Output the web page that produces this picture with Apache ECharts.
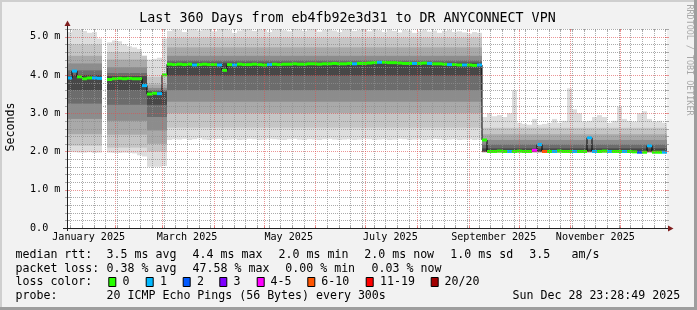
<!DOCTYPE html>
<html><head><meta charset="utf-8">
<script src="https://cdn.jsdelivr.net/npm/echarts@6/dist/echarts.min.js"></script>
<style>html,body{margin:0;padding:0;background:#f2f2f2}#c{width:697px;height:310px}</style>
</head><body><div id="c"></div>
<script>
// ---------- data ----------
const COL_DAYS = 3;          // each column = 3 days, 120 columns
const SPAN_DAYS = 360;
const T0 = Date.UTC(2025, 0, 2, 23, 28, 49);   // start of the 360-day window
const Y_MAX = 5.2;

const median = [
  3.92, 4.10, 3.95, 3.90, 3.92, 3.92, 3.91, null, 3.88, 3.90,
  3.91, 3.90, 3.91, 3.90, 3.90, 3.72, 3.50, 3.52, 3.51, 4.00,
  4.28, 4.27, 4.28, 4.27, 4.28, 4.26, 4.27, 4.28, 4.27, 4.27,
  4.26, 4.12, 4.27, 4.26, 4.28, 4.27, 4.27, 4.28, 4.27, 4.26,
  4.27, 4.28, 4.27, 4.28, 4.28, 4.29, 4.28, 4.28, 4.29, 4.29,
  4.28, 4.29, 4.29, 4.30, 4.29, 4.29, 4.30, 4.29, 4.30, 4.30,
  4.31, 4.32, 4.33, 4.33, 4.32, 4.32, 4.31, 4.30, 4.30, 4.30,
  4.30, 4.31, 4.30, 4.29, 4.29, 4.28, 4.27, 4.27, 4.26, 4.26,
  4.26, 4.25, 4.26, 2.30, 2.00, 2.00, 2.01, 2.00, 2.00, 2.00,
  2.01, 2.00, 2.00, 2.03, 2.18, 2.00, 2.00, 2.00, 2.01, 2.00,
  2.00, 2.00, 2.00, 2.00, 2.36, 2.00, 2.00, 2.01, 2.00, 2.00,
  2.00, 2.00, 2.00, 1.99, 1.98, 1.98, 2.15, 1.98, 1.98, 1.98
];
// loss colour class per column (index into lossColors)
const loss = [
  1, 1, 0, 0, 0, 1, 1, null, 0, 0,
  0, 0, 0, 0, 0, 1, 0, 0, 1, 0,
  0, 0, 0, 0, 0, 1, 0, 0, 0, 0,
  1, 0, 0, 1, 0, 0, 0, 0, 0, 0,
  1, 0, 0, 0, 0, 0, 0, 0, 0, 0,
  0, 0, 0, 0, 0, 0, 0, 1, 0, 0,
  0, 0, 1, 0, 0, 0, 0, 0, 0, 1,
  0, 0, 1, 0, 0, 0, 1, 0, 0, 1,
  0, 0, 1, 0, 0, 0, 0, 0, 1, 0,
  0, 0, 0, 4, 1, 5, 0, 1, 0, 0,
  0, 1, 0, 0, 1, 1, 0, 0, 1, 0,
  0, 1, 0, 0, 2, 0, 1, 0, 0, 1
];
const smokeMax = [
  5.12, 5.20, 5.18, 5.15, 5.10, 5.12, 4.95, null, 4.85, 4.90,
  4.88, 4.80, 4.75, 4.72, 4.68, 4.50, 4.40, 4.42, 4.45, 4.95,
  5.15, 5.22, 5.18, 5.12, 5.22, 5.20, 5.16, 5.22, 5.22, 5.14,
  5.20, 5.22, 5.18, 5.10, 5.16, 5.22, 5.20, 5.15, 5.22, 5.18,
  5.12, 5.20, 5.22, 5.17, 5.14, 5.22, 5.19, 5.15, 5.22, 5.20,
  5.13, 5.18, 5.22, 5.16, 5.12, 5.20, 5.22, 5.15, 5.18, 5.22,
  5.14, 5.19, 5.17, 5.12, 5.20, 5.15, 5.11, 5.18, 5.16, 5.10,
  5.14, 5.19, 5.13, 5.16, 5.10, 5.15, 5.18, 5.12, 5.14, 5.11,
  5.08, 5.12, 5.10, 2.90, 3.00, 2.92, 2.95, 2.90, 3.00, 3.60,
  2.75, 2.72, 2.70, 2.85, 2.70, 2.72, 2.75, 2.85, 2.75, 2.80,
  3.65, 3.10, 3.00, 2.78, 2.80, 2.90, 2.95, 2.90, 2.75, 2.80,
  3.17, 2.85, 2.80, 2.78, 3.00, 3.05, 2.85, 2.78, 2.80, 2.75
];
const smokeMin = [
  2.00, 1.98, 1.97, 1.97, 1.98, 1.96, 1.97, null, 1.97, 1.96,
  1.96, 1.97, 1.96, 1.95, 1.90, 1.87, 1.60, 1.60, 1.60, 1.62,
  2.30, 2.32, 2.31, 2.33, 2.30, 2.32, 2.34, 2.31, 2.30, 2.32,
  2.33, 2.30, 2.31, 2.32, 2.30, 2.31, 2.33, 2.32, 2.30, 2.31,
  2.33, 2.32, 2.31, 2.30, 2.32, 2.33, 2.31, 2.30, 2.32, 2.31,
  2.30, 2.32, 2.33, 2.31, 2.30, 2.31, 2.32, 2.30, 2.31, 2.33,
  2.32, 2.30, 2.31, 2.32, 2.30, 2.31, 2.33, 2.32, 2.30, 2.31,
  2.32, 2.30, 2.31, 2.33, 2.32, 2.30, 2.31, 2.32, 2.30, 2.31,
  2.32, 2.30, 2.31, 1.98, 1.97, 1.97, 1.97, 1.97, 1.97, 1.97,
  1.97, 1.97, 1.97, 1.97, 1.97, 1.97, 1.97, 1.97, 1.97, 1.97,
  1.97, 1.97, 1.97, 1.97, 1.97, 1.97, 1.97, 1.97, 1.97, 1.97,
  1.97, 1.97, 1.97, 1.96, 1.96, 1.96, 1.96, 1.96, 1.96, 1.96
];
// inner smoke band edges per period (period starts at column segStartCol[k])
const segStartCol = [0, 8, 16, 20, 83];
const bandLoB = [2.15, 2.10, 2.00, 2.62, 1.975];
const bandLoC = [2.45, 2.44, 2.20, 3.00, 1.980];
const bandLoD = [2.85, 2.80, 2.55, 3.30, 1.985];
const bandLoE = [3.25, 3.22, 2.90, 3.60, 1.990];
const bandLoF = [3.60, 3.60, 3.22, 3.98, 1.995];
const bandHiF = [4.00, 3.97, 3.56, 4.32, 2.08];
const bandHiE = [4.12, 4.05, 3.60, 4.38, 2.18];
const bandHiD = [4.30, 4.20, 3.66, 4.50, 2.30];
const bandHiC = [4.50, 4.40, 3.75, 4.72, 2.45];
const bandHiB = [4.80, 4.60, 3.95, 4.97, 2.62];

const lossColors = ['#26ff00', '#00b8ff', '#0059ff', '#7e00ff', '#ff00ff', '#ff5500', '#ff0000', '#a10000'];
const lossLabels = ['0', '1', '2', '3', '4-5', '6-10', '11-19', '20/20'];
const monthLabels = ['January 2025', 'March 2025', 'May 2025', 'July 2025', 'September 2025', 'November 2025'];
const monthLabelMonths = [0, 2, 4, 6, 8, 10];
const yTickLabels = ['0.0', '1.0 m', '2.0 m', '3.0 m', '4.0 m', '5.0 m'];
const titleText = 'Last 360 Days from eb4fb92e3d31 to DR ANYCONNECT VPN';
const legendRtt = ['median rtt:', '3.5 ms avg', '4.4 ms max', '2.0 ms min', '2.0 ms now', '1.0 ms sd', '3.5', 'am/s'];
const legendLoss = ['packet loss:', '0.38 % avg', '47.58 % max', '0.00 % min', '0.03 % now'];
const legendProbe = ['probe:', '20 ICMP Echo Pings (56 Bytes) every 300s'];
const stampText = 'Sun Dec 28 23:28:49 2025';

// ---------- styling ----------
const SMOKE = ['#dddddd', '#c5c5c5', '#a9a9a9', '#8c8c8c', '#6c6c6c', '#474747'];
const GRIDC = 'rgba(143,143,143,0.75)';
const MGRID = 'rgba(222,79,79,0.6)';
const AXISC = '#1f1f1f';
const ARROWC = '#801f1f';
const MONO = '"DejaVu Sans Mono", monospace';
const GRID = { left: 67, top: 29, width: 600, height: 199 };

// ---------- ticks from the calendar ----------
const dayOf = (y, m, d) => (Date.UTC(y, m, d) - T0) / 864e5;
const monthStartDays = [];
for (let m = 1; m <= 11; m++) monthStartDays.push(dayOf(2025, m, 1));
const weekDays = [];
for (let d = dayOf(2025, 0, 5); d < SPAN_DAYS; d += 7) {
  if (!monthStartDays.some(v => Math.abs(v - d) < 0.01)) weekDays.push(d);
}
const monthLabelDays = monthLabelMonths.map(m => dayOf(2025, m, 16));
const gridData = [];
weekDays.forEach(d => gridData.push([d, 0]));
monthStartDays.forEach(d => gridData.push([d, 1]));
for (let k = 1; k <= 26; k++) gridData.push([k / 5, k % 5 === 0 ? 3 : 2]);

function segOf(i) { let s = 0; for (let k = 0; k < segStartCol.length; k++) if (i >= segStartCol[k]) s = k; return s; }
const colData = median.map((m, i) => [i * COL_DAYS, m]);

const chart = echarts.init(document.getElementById('c'), null, { renderer: 'canvas' });

function smokeItem(params, api) {
  const i = params.dataIndex;
  if (median[i] == null) return null;
  const s = segOf(i);
  const x0 = Math.round(api.coord([i * COL_DAYS, 0])[0]);
  const x1 = Math.round(api.coord([(i + 1) * COL_DAYS, 0])[0]);
  const mn = smokeMin[i], mx = smokeMax[i];
  const bands = [[mn, mx], [bandLoB[s], bandHiB[s]], [bandLoC[s], bandHiC[s]],
                 [bandLoD[s], bandHiD[s]], [bandLoE[s], bandHiE[s]], [bandLoF[s], bandHiF[s]]];
  const children = bands.map((b, k) => {
    const lo = Math.max(b[0], mn), hi = Math.min(b[1], mx);
    const yt = api.coord([0, hi])[1], yb = api.coord([0, lo])[1];
    return { type: 'rect', shape: { x: x0, y: yt, width: x1 - x0, height: Math.max(0, yb - yt) },
             style: { fill: SMOKE[k] }, silent: true };
  });
  return { type: 'group', children };
}
function lossItem(params, api) {
  const i = params.dataIndex;
  if (median[i] == null) return null;
  const x0 = Math.round(api.coord([i * COL_DAYS, 0])[0]);
  const x1 = Math.round(api.coord([(i + 1) * COL_DAYS, 0])[0]);
  const y = api.coord([0, median[i]])[1];
  return { type: 'rect', shape: { x: x0, y: y - 1.5, width: x1 - x0, height: 3 },
           style: { fill: lossColors[loss[i]] }, silent: true };
}
function gridItem(params, api) {
  const v = api.value(0), kind = api.value(1);
  const major = kind === 1 || kind === 3;
  const color = major ? MGRID : GRIDC;
  const dot = { stroke: color, lineWidth: 1, lineDash: [1, 1] };
  const solid = { stroke: color, lineWidth: 1 };
  if (kind < 2) {
    const p0 = api.coord([v, 0]), p1 = api.coord([v, Y_MAX]);
    const x = Math.round(p0[0]) + 0.5;
    return { type: 'group', children: [
      { type: 'line', shape: { x1: x, y1: p0[1], x2: x, y2: p1[1] }, style: dot, silent: true },
      { type: 'line', shape: { x1: x, y1: p0[1] - 2, x2: x, y2: p0[1] }, style: solid, silent: true },
      { type: 'line', shape: { x1: x, y1: p1[1], x2: x, y2: p1[1] + 2 }, style: solid, silent: true }
    ] };
  }
  const p0 = api.coord([0, v]), p1 = api.coord([SPAN_DAYS, v]);
  const y = Math.round(p0[1]) + 0.5;
  return { type: 'group', children: [
    { type: 'line', shape: { x1: p0[0], y1: y, x2: p1[0], y2: y }, style: dot, silent: true },
    { type: 'line', shape: { x1: p0[0] - 2, y1: y, x2: p0[0] + 2, y2: y }, style: solid, silent: true },
    { type: 'line', shape: { x1: p1[0] - 2, y1: y, x2: p1[0] + 2, y2: y }, style: solid, silent: true }
  ] };
}

// ---------- decorations (texts, legend, frame, arrows) ----------
const W = 697, H = 310;
const g = [];
g.push({ type: 'rect', shape: { x: 0, y: 0, width: W, height: 2 }, style: { fill: '#cfcfcf' }, silent: true });
g.push({ type: 'rect', shape: { x: 0, y: 0, width: 2, height: H }, style: { fill: '#cfcfcf' }, silent: true });
g.push({ type: 'rect', shape: { x: 0, y: H - 3, width: W, height: 3 }, style: { fill: '#9e9e9e' }, silent: true });
g.push({ type: 'rect', shape: { x: W - 3, y: 0, width: 3, height: H }, style: { fill: '#9e9e9e' }, silent: true });
function txt(x, y, s, size, opts) {
  return Object.assign({ type: 'text', x, y, silent: true,
    style: Object.assign({ text: s, font: size + 'px ' + MONO, fill: '#000', align: 'left', verticalAlign: 'middle' }, (opts || {})) });
}
g.push(txt(347.5, 18.5, titleText, 13.3, { align: 'center' }));
g.push(Object.assign(txt(11, 127, 'Seconds', 11.6, { align: 'center' }), { rotation: Math.PI / 2 }));
g.push(Object.assign(txt(689, 60, 'RRDTOOL / TOBI OETIKER', 8.4, { align: 'center', fill: '#a8a8a8' }), { rotation: -Math.PI / 2 }));
const LEG = 11.6;
const rttX = [15.5, 106.6, 192.6, 278.6, 364.3, 450.3, 529.3, 571.6];
legendRtt.forEach((s, k) => g.push(txt(rttX[k], 254.5, s, LEG)));
const lossX = [15.5, 106.6, 192.6, 285.3, 371.6];
legendLoss.forEach((s, k) => g.push(txt(lossX[k], 268.5, s, LEG)));
g.push(txt(15.5, 282.3, 'loss color:', LEG));
const boxX = [108.3, 145.7, 182.7, 219.3, 256.7, 307.3, 365.7, 430.7];
const boxLabelX = [122.6, 160.0, 197.0, 233.6, 270.6, 321.3, 380.0, 444.6];
lossLabels.forEach((s, k) => {
  g.push({ type: 'rect', shape: { x: boxX[k] + 0.5, y: 277.5, width: 7, height: 9 },
           style: { fill: lossColors[k], stroke: '#000', lineWidth: 1 }, silent: true });
  g.push(txt(boxLabelX[k], 282.3, s, LEG));
});
g.push(txt(15.5, 296, legendProbe[0], LEG));
g.push(txt(106.6, 296, legendProbe[1], LEG));
g.push(txt(512.6, 296, stampText, LEG));
// axis extensions and arrow heads
const gx0 = GRID.left, gy0 = GRID.top + GRID.height, gx1 = GRID.left + GRID.width, gy1 = GRID.top;
g.push({ type: 'line', shape: { x1: gx0 - 4, y1: gy0 + 0.5, x2: gx1 + 2, y2: gy0 + 0.5 }, style: { stroke: AXISC, lineWidth: 1 }, silent: true, z: 20 });
g.push({ type: 'line', shape: { x1: gx0 + 0.5, y1: gy0 + 3, x2: gx0 + 0.5, y2: gy1 - 3 }, style: { stroke: AXISC, lineWidth: 1 }, silent: true, z: 20 });
g.push({ type: 'polygon', shape: { points: [[gx1 + 1, gy0 - 2.5], [gx1 + 6.5, gy0 + 0.5], [gx1 + 1, gy0 + 3.5]] }, style: { fill: ARROWC }, silent: true, z: 20 });
g.push({ type: 'polygon', shape: { points: [[gx0 - 2.5, gy1 - 3], [gx0 + 0.5, gy1 - 8.5], [gx0 + 3.5, gy1 - 3]] }, style: { fill: ARROWC }, silent: true, z: 20 });

const option = {
  animation: false,
  backgroundColor: '#f2f2f2',
  grid: Object.assign({ show: true, backgroundColor: '#ffffff', borderWidth: 0, z: 0 }, GRID),
  xAxis: {
    type: 'value', min: 0, max: SPAN_DAYS, z: 10,
    axisLine: { show: false },
    axisTick: { show: false },
    splitLine: { show: false },
    axisLabel: {
      customValues: monthLabelDays,
      formatter: v => { let best = 0; monthLabelDays.forEach((d, k) => { if (Math.abs(d - v) < Math.abs(monthLabelDays[best] - v)) best = k; }); return monthLabels[best]; },
      fontFamily: MONO, fontSize: 10.1, color: '#000', margin: 9.5, verticalAlign: 'middle'
    }
  },
  yAxis: {
    type: 'value', min: 0, max: Y_MAX, z: 10,
    axisLine: { show: false },
    axisTick: { show: false },
    splitLine: { show: false },
    axisLabel: {
      customValues: [0, 1, 2, 3, 4, 5],
      formatter: v => yTickLabels[Math.round(v)],
      fontFamily: MONO, fontSize: 10.1, color: '#000', align: 'left', margin: 37
    }
  },
  graphic: { elements: g },
  series: [
    { type: 'custom', name: 'smoke', z: 1, clip: true, data: colData, encode: { x: 0, y: 1 }, renderItem: smokeItem },
    { type: 'line', name: 'median', z: 2, step: 'end', symbol: 'none', connectNulls: false,
      data: colData.concat([[SPAN_DAYS, median[median.length - 1]]]),
      lineStyle: { color: '#000', width: 1 } },
    { type: 'custom', name: 'loss', z: 3, clip: true, data: colData, encode: { x: 0, y: 1 }, renderItem: lossItem },
    { type: 'custom', name: 'grid', z: 4, clip: false, data: gridData, encode: { x: 0, y: 1 }, renderItem: gridItem }
  ]
};
chart.setOption(option);
</script></body></html>
